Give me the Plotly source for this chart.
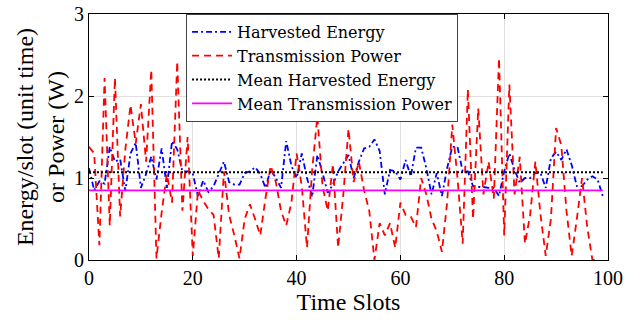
import plotly.graph_objects as go

slots_h = list(range(0, 100))
harvested = [1.12, 0.85, 0.96, 0.93, 1.38, 1.20, 1.23, 0.84, 1.30, 1.43,
             0.88, 1.05, 1.26, 0.98, 1.36, 0.88, 1.45, 1.35, 1.08, 1.08,
             1.05, 0.78, 0.97, 0.83, 0.90, 1.05, 1.20, 0.95, 0.92, 0.92,
             1.06, 1.08, 1.13, 1.05, 0.88, 1.10, 1.00, 0.88, 1.45, 1.15,
             1.00, 1.30, 1.00, 0.77, 1.28, 1.06, 0.82, 0.92, 1.08, 1.18,
             1.28, 1.00, 1.20, 1.36, 1.38, 1.47, 1.33, 0.80, 1.10, 1.08,
             0.98, 1.22, 1.02, 1.37, 1.37, 1.12, 0.80, 1.06, 0.78, 1.12,
             1.38, 1.38, 1.08, 1.08, 0.90, 0.89, 0.89, 0.88, 0.88, 0.78,
             1.08, 1.30, 1.10, 0.94, 1.00, 1.00, 1.06, 1.06, 0.88, 1.24,
             1.32, 1.22, 1.35, 1.16, 0.90, 0.90, 0.98, 1.02, 0.98, 0.78]

slots_p = list(range(0, 99))
power = [1.38, 1.30, 0.18, 2.22, 0.42, 2.22, 0.53, 1.35, 1.89, 1.42,
         1.90, 1.20, 2.32, 0.02, 0.58, 1.05, 0.70, 2.42, 0.60, 1.50,
         0.05, 0.85, 0.72, 0.62, 0.55, 0.02, 1.08, 0.55, 0.30, 0.02,
         0.50, 0.68, 0.50, 0.30, 0.75, 1.15, 0.95, 0.60, 0.42, 0.70,
         1.30, 0.90, 0.15, 1.10, 1.75, 0.90, 0.60, 1.17, 0.15, 0.80,
         1.60, 0.95, 1.20, 0.85, 0.60, 0.00, 0.45, 0.30, 0.45, 0.15,
         0.70, 0.55, 0.53, 0.40, 1.00, 0.80, 0.50, 0.35, 0.10, 0.70,
         1.65, 1.00, 0.20, 2.08, 0.50, 1.85, 0.80, 1.20, 0.75, 2.46,
         0.30, 2.14, 0.80, 1.26, 0.20, 0.55, 1.20, 0.55, 0.05, 0.50,
         1.61, 1.40, 0.60, 0.05, 0.50, 1.00, 0.40, 0.00, 0.00]

mean_harvested = 1.07
mean_power = 0.85
mean_x = [0, 99]

x_ticks = [0, 20, 40, 60, 80, 100]
y_ticks = [0, 1, 2, 3]

FONT = "Liberation Serif"
LEG_FONT = "DejaVu Serif"

fig = go.Figure()
fig.add_trace(go.Scatter(x=slots_h, y=harvested, mode="lines", name="Harvested Energy",
                         line=dict(color="#0000ff", width=1.8, dash="6px,3px,2px,3px")))
fig.add_trace(go.Scatter(x=slots_p, y=power, mode="lines", name="Transmission Power",
                         line=dict(color="#ff0000", width=1.8, dash="7px,5px")))
fig.add_trace(go.Scatter(x=mean_x, y=[mean_harvested] * 2, mode="lines", name="Mean Harvested Energy",
                         line=dict(color="#000000", width=1.8, dash="2px,2px")))
fig.add_trace(go.Scatter(x=mean_x, y=[mean_power] * 2, mode="lines", name="Mean Transmission Power",
                         line=dict(color="#ff00ff", width=1.8)))

axis_common = dict(showline=True, linecolor="black", linewidth=1, mirror="ticks",
                   ticks="inside", ticklen=5, tickcolor="black",
                   showgrid=True, gridcolor="#e0e0e0", gridwidth=1,
                   zeroline=False, automargin=False,
                   tickfont=dict(family=FONT, size=20, color="black"))

fig.update_xaxes(range=[0, 100], tickvals=x_ticks,
                 title=dict(text="Time Slots", font=dict(family=FONT, size=24, color="black"), standoff=2),
                 **axis_common)
fig.update_yaxes(range=[0, 3], tickvals=y_ticks,
                 title=dict(text="Energy/slot (unit time)<br>or Power (W)",
                            font=dict(family=FONT, size=24, color="black"), standoff=2),
                 **axis_common)

fig.update_layout(
    width=642, height=320,
    margin=dict(l=89, r=34, t=14, b=60),
    plot_bgcolor="white", paper_bgcolor="white",
    legend=dict(x=0.187, y=1.0, xanchor="left", yanchor="top",
                bgcolor="white", bordercolor="#444444", borderwidth=1,
                font=dict(family=LEG_FONT, size=16, color="black"),
                tracegroupgap=0, itemwidth=40),
)

fig.write_html("out.html", config={"displayModeBar": False},
               post_script="document.body.style.margin='0px';")
